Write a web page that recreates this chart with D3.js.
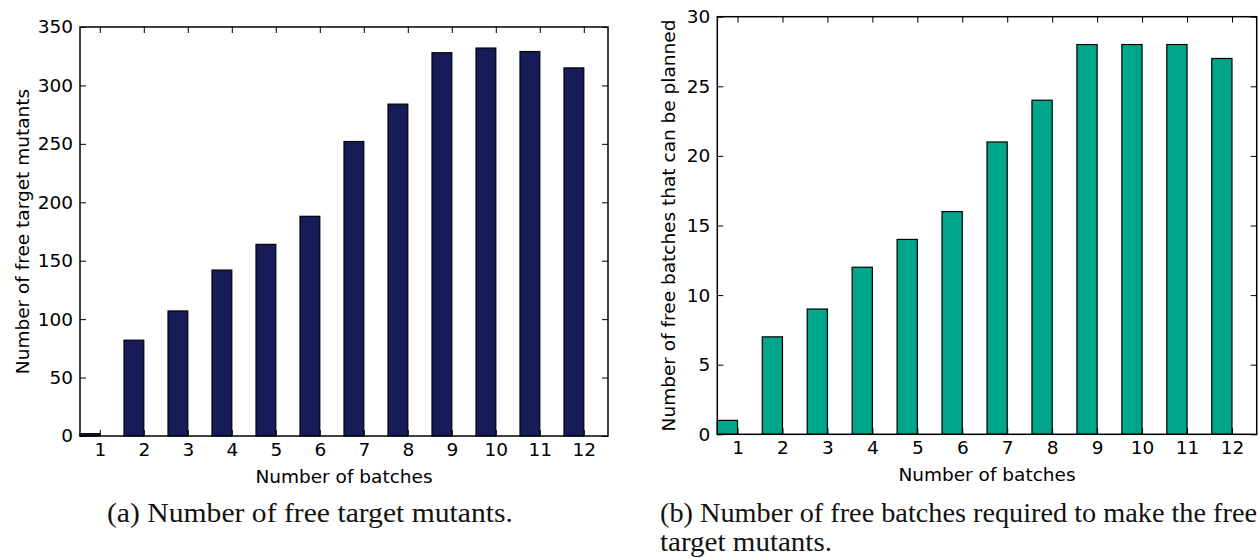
<!DOCTYPE html>
<html>
<head>
    <meta charset="utf-8">
    <script src="https://d3js.org/d3.v7.min.js"></script>
    <style>
        body { margin: 0; background: #fff; }
        svg { display: block; }
        .tick text { font-family: "DejaVu Sans", sans-serif; font-size: 18.5px; fill: #000; }
        .tick line { stroke: #000; stroke-width: 1; }
    </style>
</head>
<body>
    <svg id="fig" width="1260" height="558"></svg>

    <script>
        // data
        const batches = [1, 2, 3, 4, 5, 6, 7, 8, 9, 10, 11, 12];
        const freeMutants = [2, 82, 107, 142, 164, 188, 252, 284, 328, 332, 329, 315];
        const freeBatches = [1, 7, 9, 12, 14, 16, 21, 24, 28, 28, 28, 27];
        const yTicksA = [0, 50, 100, 150, 200, 250, 300, 350];
        const yTicksB = [0, 5, 10, 15, 20, 25, 30];

        const svg = d3.select("#fig");
        const barWidth = 0.45;

        // one matplotlib-style bar panel
        function drawPanel(opt) {
            const g = svg.append("g");
            const x = d3.scaleLinear().domain([0, 12]).range([opt.left, opt.right]);
            const y = d3.scaleLinear().domain([0, opt.yMax]).range([opt.bottom, opt.top]);
            const tickPos = batches.map((b, i) => i + barWidth);

            // bars
            g.append("g")
                .selectAll("rect")
                .data(opt.values)
                .join("rect")
                .attr("x", (d, i) => x(i))
                .attr("y", d => y(d))
                .attr("width", x(barWidth) - x(0))
                .attr("height", d => y(0) - y(d))
                .attr("fill", opt.color)
                .attr("stroke", "#000")
                .attr("stroke-width", 1.2);

            // axes, ticks pointing inward on all four sides
            const bottom = d3.axisBottom(x).tickValues(tickPos)
                .tickFormat((d, i) => batches[i]).tickSize(-6).tickPadding(7);
            const top = d3.axisTop(x).tickValues(tickPos).tickFormat("").tickSize(-6);
            const left = d3.axisLeft(y).tickValues(opt.yTicks).tickSize(-6).tickPadding(7);
            const right = d3.axisRight(y).tickValues(opt.yTicks).tickFormat("").tickSize(-6);

            g.append("g").attr("transform", `translate(0,${opt.bottom})`).call(bottom);
            g.append("g").attr("transform", `translate(0,${opt.top})`).call(top);
            g.append("g").attr("transform", `translate(${opt.left},0)`).call(left);
            g.append("g").attr("transform", `translate(${opt.right},0)`).call(right);
            g.selectAll(".domain").remove();

            // frame
            g.append("rect")
                .attr("x", opt.left).attr("y", opt.top)
                .attr("width", opt.right - opt.left).attr("height", opt.bottom - opt.top)
                .attr("fill", "none").attr("stroke", "#000").attr("stroke-width", 1.5);

            // axis labels
            g.append("text")
                .attr("x", (opt.left + opt.right) / 2)
                .attr("y", opt.bottom + 47)
                .attr("text-anchor", "middle")
                .style("font-family", "DejaVu Sans, sans-serif")
                .style("font-size", "18.5px")
                .text("Number of batches");

            g.append("text")
                .attr("transform", `translate(${opt.yLabelX},${(opt.top + opt.bottom) / 2}) rotate(-90)`)
                .attr("text-anchor", "middle")
                .style("font-family", "DejaVu Sans, sans-serif")
                .style("font-size", "18.5px")
                .text(opt.yLabel);
        }

        drawPanel({
            left: 80, right: 608, top: 27, bottom: 436,
            yMax: 350, yTicks: yTicksA, values: freeMutants,
            color: "#161c5a", yLabelX: 28.5,
            yLabel: "Number of free target mutants"
        });

        drawPanel({
            left: 717.3, right: 1256.7, top: 16.7, bottom: 434.3,
            yMax: 30, yTicks: yTicksB, values: freeBatches,
            color: "#00a68a", yLabelX: 674.5,
            yLabel: "Number of free batches that can be planned"
        });

        // sub-figure captions
        const captions = [
            { x: 107, y: 522, w: 406, t: "(a) Number of free target mutants." },
            { x: 660, y: 522, w: 597, t: "(b) Number of free batches required to make the free" },
            { x: 660, y: 551, w: 172, t: "target mutants." }
        ];
        svg.append("g")
            .selectAll("text")
            .data(captions)
            .join("text")
            .attr("x", d => d.x)
            .attr("y", d => d.y)
            .attr("textLength", d => d.w)
            .attr("lengthAdjust", "spacingAndGlyphs")
            .style("font-family", "Liberation Serif, serif")
            .style("font-size", "27px")
            .style("fill", "#111")
            .text(d => d.t);
    </script>
</body>
</html>
